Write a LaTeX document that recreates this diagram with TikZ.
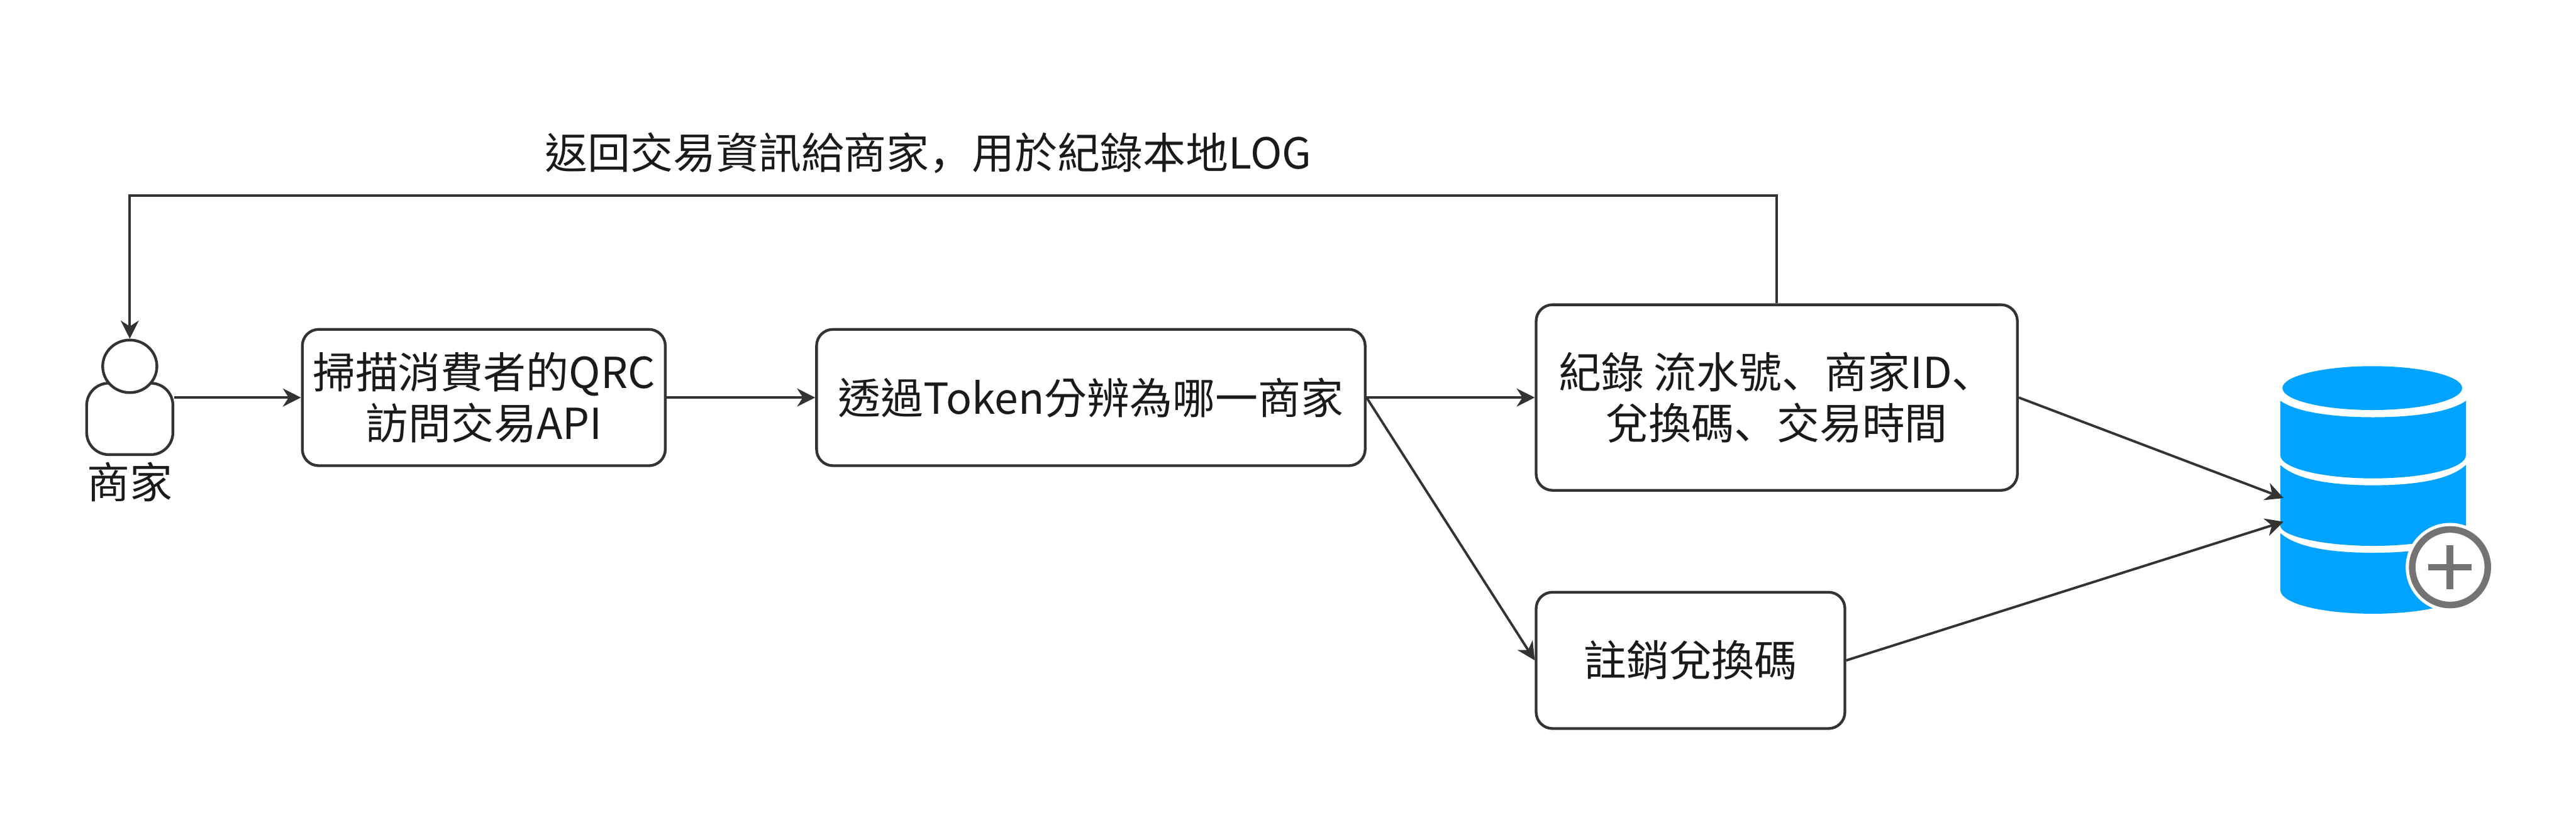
\documentclass[tikz,border=0pt]{standalone}
\usepackage{fontspec}
\setmainfont{Noto Sans CJK TC}
\newfontfamily\scfont{Noto Sans CJK SC}
\usepackage{xcolor}
\usetikzlibrary{shapes.geometric,arrows.meta,positioning}
\definecolor{linegray}{RGB}{51,51,51}
\definecolor{textblack}{RGB}{26,26,26}
\definecolor{dbblue}{RGB}{0,163,255}
\definecolor{plusgray}{RGB}{115,115,115}
\newcommand{\pausemark}{{\scfont\symbol{"3001}}}
\newcommand{\commamark}{{\scfont\symbol{"FF0C}}}
\tikzset{
  stepbox/.style={rectangle, rounded corners=0.2cm, draw=linegray, line width=0.95pt, fill=white, text=textblack, align=center, inner sep=0pt, font=\fontsize{14.8}{17.6}\selectfont},
  flow/.style={-{Stealth[length=0.22cm, width=0.22cm, inset=0.07cm]}, draw=linegray, line width=0.85pt},
  plain label/.style={text=textblack, inner sep=0pt, font=\fontsize{14.8}{17.6}\selectfont}
}

\begin{document}
\begin{tikzpicture}[>=Stealth, x=0.02cm, y=-0.02cm]
\useasboundingbox (0,0) rectangle (1568,496);
% Merchant figure
\node[stepbox, rounded corners=0.27cm, minimum width=1.05cm, minimum height=0.87cm] (body) at (79,255) {};
\node[ellipse, draw=linegray, line width=0.95pt, fill=white, inner sep=0pt, minimum width=0.66cm, minimum height=0.64cm] (head) at (79,223) {};
\node[plain label] (merchant) at (79,293.5) {商家};
% Process boxes
\node[stepbox, minimum width=4.42cm, minimum height=1.66cm] (scan) at (294.5,242) {掃描消費者的QRC\\訪問交易API};
\node[stepbox, minimum width=6.68cm, minimum height=1.66cm] (token) at (664,242) {透過Token分辨為哪一商家};
\node[stepbox, minimum width=5.86cm, minimum height=2.26cm] (record) at (1081.5,242) {紀錄 流水號\pausemark 商家ID\pausemark\hspace{0.16cm}\\兌換碼\pausemark 交易時間};
\node[stepbox, minimum width=3.76cm, minimum height=1.66cm] (cancel) at (1029,402) {註銷兌換碼};
% Database with plus badge
\fill[dbblue] (1444,222.9) .. controls (1474,222.9) and (1498.7,228.9) .. (1498.7,236.2) .. controls (1498.7,243.6) and (1474,249.6) .. (1444,249.6) .. controls (1414,249.6) and (1389.3,243.6) .. (1389.3,236.2) .. controls (1389.3,228.9) and (1414,222.9) .. (1444,222.9) -- cycle;
\foreach \ytop/\ymidt/\ybot/\ymidb in {244/254/277/291.2, 283/295.4/320/332.3, 324.5/336.5/359/373.6} {
  \fill[dbblue] (1388,\ytop) .. controls (1398,\ymidt-3) and (1420,\ymidt) .. (1444.5,\ymidt) .. controls (1469,\ymidt) and (1491,\ymidt-3) .. (1501,\ytop) -- (1501,\ybot) .. controls (1501,\ymidb-6) and (1475,\ymidb) .. (1444.5,\ymidb) .. controls (1414,\ymidb) and (1388,\ymidb-6) .. (1388,\ybot) -- cycle;
}
\node[circle, fill=white, inner sep=0pt, minimum size=1.08cm] (badge) at (1491.3,345.3) {};
\node[circle, draw=plusgray, line width=0.08cm, fill=white, inner sep=0pt, minimum size=0.92cm] (ring) at (1491.3,345.3) {};
\draw[plusgray, line width=0.08cm] (1478,345.3) -- (1504.6,345.3);
\draw[plusgray, line width=0.08cm] (1491.3,332) -- (1491.3,358.6);
\coordinate (dbupper) at (1390,303.2);
\coordinate (dblower) at (1390,317.6);
% Connectors
\draw[flow] (body.east |- scan.west) -- (scan.west);
\draw[flow] (scan.east) -- (token.west);
\draw[flow] (token.east) -- (record.west);
\draw[flow] (token.east) -- (cancel.west);
\draw[flow] (record.east) -- (dbupper);
\draw[flow] (cancel.east) -- (dblower);
% Return to merchant
\coordinate (corner) at (79,119);
\draw[flow] (record.north) |- (corner) -- (head.north);
\node[plain label] (backlabel) at (565,93) {返回交易資訊給商家\commamark 用於紀錄本地LOG};
\end{tikzpicture}
\end{document}
